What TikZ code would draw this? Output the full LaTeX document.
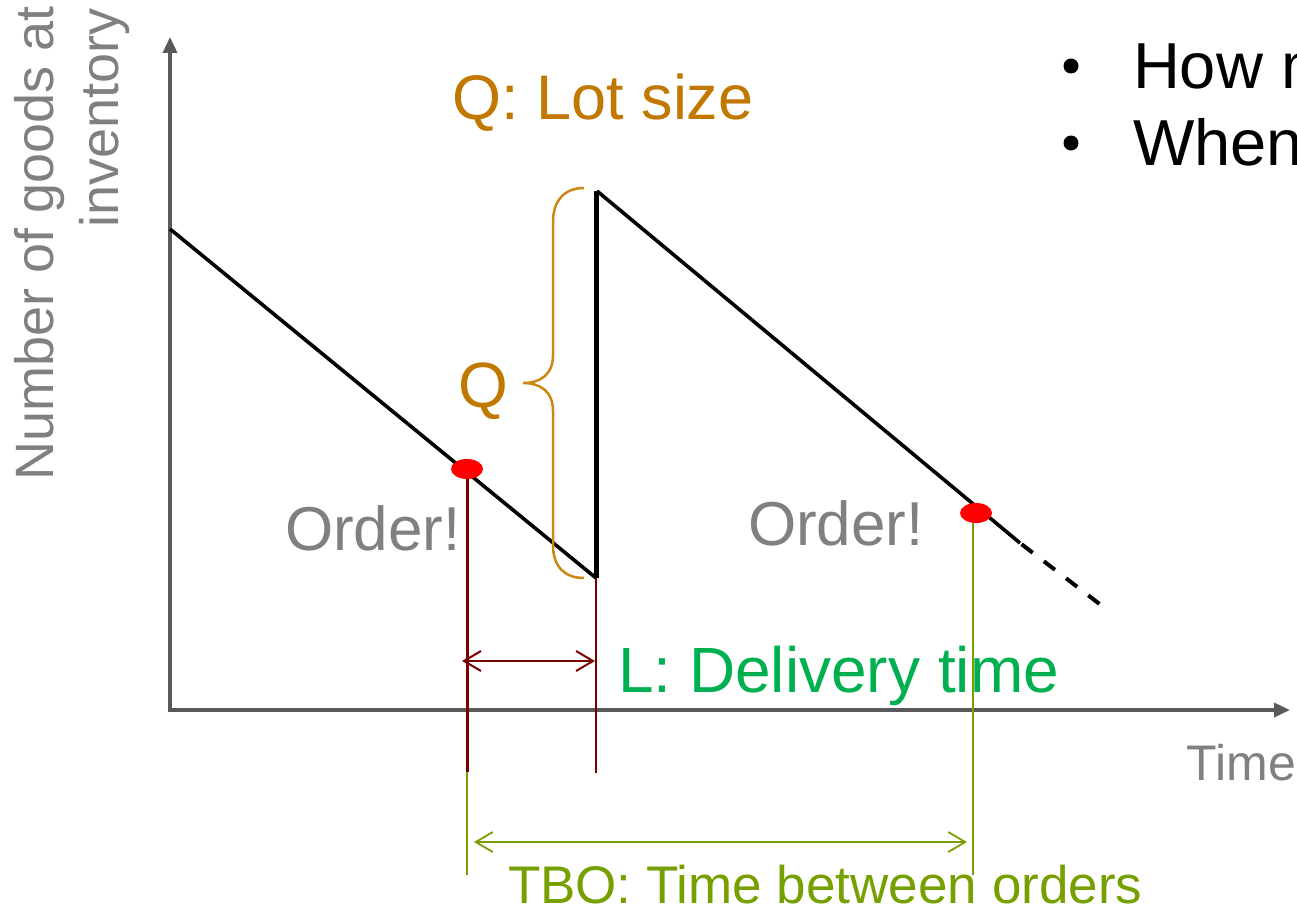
\documentclass[tikz,border=0pt]{standalone}
\usepackage{fontspec}
\setmainfont{Liberation Sans}
\usetikzlibrary{arrows.meta,shapes.geometric}
\definecolor{axisgrey}{RGB}{89,89,89}
\definecolor{labelgrey}{RGB}{128,128,128}
\definecolor{lotorange}{RGB}{192,120,0}
\definecolor{braceorange}{RGB}{204,136,20}
\definecolor{deliverygreen}{RGB}{0,176,80}
\definecolor{tbogreen}{RGB}{118,160,0}
\definecolor{darkred}{RGB}{122,0,0}
\newcommand\myfs[1]{\fontsize{#1}{#1}\selectfont}
\begin{document}
\begin{tikzpicture}[x=1pt,y=-1pt,
  axis/.style={axisgrey, line width=3.5pt, -{Triangle[length=16pt,width=14pt]}},
  stock/.style={black, line width=3.6pt},
  lbl/.style={inner sep=0pt, outer sep=0pt},
  reddot/.style={ellipse, fill=red, draw=none, minimum width=32pt, minimum height=20pt, inner sep=0pt},
  bulletdot/.style={circle, fill=black, draw=none, minimum size=15pt, inner sep=0pt},
  barbs/.style={{Straight Barb[length=17pt,width=20pt]}-{Straight Barb[length=17pt,width=20pt]}}
]
\useasboundingbox (0,0) rectangle (1297,912);
\clip (0,0) rectangle (1297,912);

% axes
\coordinate (yfoot) at (170,711.5);
\coordinate (ytip) at (170,37);
\coordinate (xfoot) at (168.5,710);
\coordinate (xtip) at (1290,710);
\draw[axis] (yfoot) -- (ytip);
\draw[axis] (xfoot) -- (xtip);

% stock curve
\coordinate (s0) at (170,229);
\coordinate (s1) at (596,578);
\coordinate (s2) at (596,191);
\coordinate (s3) at (1020,543);
\coordinate (s4) at (1110,612);
\draw[stock] (s0) -- (s1);
\draw[black, line width=5pt] (s1) -- (s2);
\draw[stock] ([xshift=1pt]s2) -- (s3);
\draw[black, line width=4pt, dash pattern=on 14pt off 14pt, dash phase=-2pt] (s3) -- (s4);

% order points
\node[reddot] (dot1) at (467,469) {};
\node[reddot] (dot2) at (976,513) {};

% delivery-time markers
\coordinate (r1) at (467,772);
\coordinate (g1) at (467,875);
\coordinate (d2) at (596,773);
\coordinate (g2) at (973,875);
\draw[darkred, line width=3pt] (dot1.south) -- (r1);
\draw[tbogreen, line width=2.8pt] (r1) -- (g1);
\draw[darkred, line width=1.4pt] (s1) -- (d2);
\draw[tbogreen, line width=2.2pt] (dot2.south -| g2) -- (g2);

\coordinate (la) at (462,661);
\coordinate (lb) at (595,661);
\draw[darkred, line width=2pt, barbs] (la) -- (lb);

\coordinate (ta) at (474,842);
\coordinate (tb) at (967,842);
\draw[tbogreen, line width=1.8pt, barbs] (ta) -- (tb);

% brace
\draw[braceorange, line width=2.5pt]
  (584,188) .. controls (565,188) and (553,200) .. (553,222)
  -- (553,355) .. controls (553,375) and (540,383) .. (523,383)
  .. controls (540,383) and (553,391) .. (553,411)
  -- (553,545) .. controls (553,567) and (565,578) .. (584,578);

% labels
\node[lbl, text=lotorange, anchor=base] (lotsize) at (603,120) {\myfs{63}Q: Lot size};
\node[lbl, text=lotorange, anchor=base west] (qlabel) at (458,407) {\myfs{64}Q};
\node[lbl, text=deliverygreen, anchor=base west] (ltime) at (618,692) {\myfs{64}L: Delivery time};
\node[lbl, text=labelgrey, anchor=base west] (order1) at (285,550) {\myfs{62}Order!};
\node[lbl, text=labelgrey, anchor=base west] (order2) at (748,545) {\myfs{62}Order!};
\node[lbl, text=labelgrey, anchor=base east] (timelbl) at (1296,780) {\myfs{50}Time};
\node[lbl, text=tbogreen, anchor=base west] (tbo) at (508,903) {\myfs{53}TBO: Time between orders};
\node[lbl, text=labelgrey, rotate=90, anchor=base east] (ylab1) at (53,6) {\myfs{54}Number of goods at};
\node[lbl, text=labelgrey, rotate=90, anchor=base east] (ylab2) at (118,8) {\myfs{54}inventory};

% bullets
\node[bulletdot] (b1) at (1071,66) {};
\node[bulletdot] (b2) at (1071,143) {};
\node[lbl, anchor=base west] (how) at (1133,89) {\myfs{65}How much to order?};
\node[lbl, anchor=base west] (when) at (1133,166) {\myfs{65}When to order?};
\end{tikzpicture}
\end{document}
